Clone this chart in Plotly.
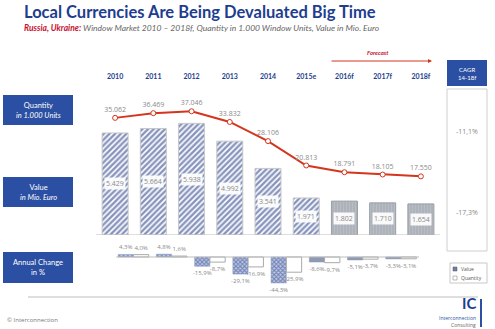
import plotly.graph_objects as go

# ---------------- data ----------------
years = ["2010", "2011", "2012", "2013", "2014", "2015e", "2016f", "2017f", "2018f"]
value_mio_eur = [5429, 5664, 5938, 4992, 3541, 1971, 1802, 1710, 1654]
quantity_k_units = [35062, 36469, 37046, 33832, 28106, 20813, 18791, 18105, 17550]
change_value_pct = [4.3, 4.8, -15.9, -29.1, -44.3, -8.6, -5.1, -3.3]
change_quantity_pct = [4.0, 1.6, -8.7, -16.9, -25.9, -9.7, -3.7, -3.1]
cagr_quantity = "-11,1%"
cagr_value = "-17,3%"
n_actual = 6  # 2010..2015e are actual/estimate, rest forecast

W, H = 495, 329
BLUE = "#2b4fa2"
DARK = "#1d3d8f"
RED = "#d4351c"
GREY = "#8a8a8a"


def px(x):
    return x / W


def py(y):
    return 1 - y / H


def de_int(v):
    return f"{v:,}".replace(",", ".")


def de_pct(v):
    return f"{v:.1f}%".replace(".", ",")


idx = list(range(len(years)))
chg_pos = [i + 0.5 for i in range(len(change_value_pct))]

fig = go.Figure()

# main value bars: actual
fig.add_trace(go.Bar(
    x=idx[:n_actual], y=value_mio_eur[:n_actual], width=0.68, xaxis="x", yaxis="y",
    marker=dict(
        color="white",
        line=dict(color="#c8c8c8", width=1),
        pattern=dict(shape="/", fgcolor="#0f2a7a", bgcolor="white", size=4, solidity=0.6),
    ),
    hoverinfo="skip", showlegend=False,
))
# main value bars: forecast
fig.add_trace(go.Bar(
    x=idx[n_actual:], y=value_mio_eur[n_actual:], width=0.68, xaxis="x", yaxis="y",
    marker=dict(
        color="#b4b8c0",
        line=dict(color="#9a9ea6", width=1),
        pattern=dict(shape="|", fgcolor="#c4c7cd", bgcolor="#adb1b9", size=3, solidity=0.4),
    ),
    hoverinfo="skip", showlegend=False,
))

# quantity line
fig.add_trace(go.Scatter(
    x=idx, y=quantity_k_units, xaxis="x", yaxis="y2",
    mode="lines+markers+text",
    line=dict(color=RED, width=2),
    marker=dict(symbol="circle", size=5, color="white", line=dict(color=RED, width=1)),
    text=[de_int(v) for v in quantity_k_units], textposition="top center",
    textfont=dict(size=7, color=GREY, family="Open Sans"),
    cliponaxis=False, showlegend=False, hoverinfo="skip",
))

# annual change bars
n_chg_actual = n_actual - 1
fig.add_trace(go.Bar(
    x=chg_pos[:n_chg_actual], y=change_value_pct[:n_chg_actual], width=0.4, offset=-0.42,
    xaxis="x3", yaxis="y3",
    marker=dict(color="#c3cbe2", line=dict(color="#8d9cc4", width=0.5),
                pattern=dict(shape="x", fgcolor="#24408f", bgcolor="#c3cbe2", size=3, solidity=0.6)),
    text=[de_pct(v) for v in change_value_pct[:n_chg_actual]], textposition="outside",
    textfont=dict(size=6, color=GREY, family="Open Sans"), constraintext="none",
    cliponaxis=False, showlegend=False, hoverinfo="skip",
))
fig.add_trace(go.Bar(
    x=chg_pos[n_chg_actual:], y=change_value_pct[n_chg_actual:], width=0.4, offset=-0.42,
    xaxis="x3", yaxis="y3",
    marker=dict(color="#8e9ab3", line=dict(color="#8e9ab3", width=0.5)),
    text=[de_pct(v) for v in change_value_pct[n_chg_actual:]], textposition="outside",
    textfont=dict(size=6, color=GREY, family="Open Sans"), constraintext="none",
    cliponaxis=False, showlegend=False, hoverinfo="skip",
))
fig.add_trace(go.Bar(
    x=chg_pos, y=change_quantity_pct, width=0.4, offset=-0.02, xaxis="x3", yaxis="y3",
    marker=dict(color="white", line=dict(color="#aaaaaa", width=1)),
    text=[de_pct(v) for v in change_quantity_pct], textposition="outside",
    textfont=dict(size=6, color=GREY, family="Open Sans"), constraintext="none",
    cliponaxis=False, showlegend=False, hoverinfo="skip",
))

xdom = [px(96), px(440)]
fig.update_layout(
    width=W, height=H, margin=dict(l=0, r=0, t=0, b=0),
    paper_bgcolor="white", plot_bgcolor="rgba(0,0,0,0)",
    font=dict(family="Open Sans", color=GREY),
    barmode="overlay",
    xaxis=dict(domain=xdom, range=[-0.5, 8.5], side="top", anchor="y",
               tickvals=idx, ticktext=years, ticks="", showgrid=False, zeroline=False,
               showline=False, ticklabelstandoff=4,
               tickfont=dict(size=7, color=DARK, family="Lato", weight="bold")),
    yaxis=dict(domain=[py(235), py(85)], range=[0, 7979], visible=False),
    yaxis2=dict(overlaying="y", range=[0, 44900], visible=False),
    xaxis3=dict(domain=xdom, range=[-0.5, 8.5], anchor="y3", visible=False),
    yaxis3=dict(domain=[py(292), py(245)], range=[-59.6, 20.4], visible=False),
)

shapes = []
ann = []


def note(xp, yp, text, size, color, family="Open Sans", xanchor="center", **kw):
    ann.append(dict(x=px(xp), y=py(yp), xref="paper", yref="paper", text=text, showarrow=False,
                    xanchor=xanchor, yanchor="middle",
                    font=dict(size=size, color=color, family=family), **kw))


def rect(x0, y0, x1, y1, fill, line_color=None, lw=0):
    shapes.append(dict(type="rect", xref="paper", yref="paper", x0=px(x0), x1=px(x1),
                       y0=py(y1), y1=py(y0), fillcolor=fill,
                       line=dict(color=line_color or fill, width=lw)))


# baselines
shapes.append(dict(type="line", xref="paper", yref="y", x0=px(96), x1=px(440), y0=0, y1=0,
                   line=dict(color="#bdbdbd", width=1)))
shapes.append(dict(type="line", xref="x3", yref="y3", x0=chg_pos[0] - 0.47, x1=chg_pos[-1] + 0.45,
                   y0=0, y1=0, line=dict(color="#bdbdbd", width=1)))
shapes.append(dict(type="line", xref="paper", yref="paper", x0=px(28), x1=px(478), y0=py(297), y1=py(297),
                   line=dict(color="#bdbdbd", width=1)))

# bar value labels
for i, v in enumerate(value_mio_eur):
    ann.append(dict(x=i, y=v / 2, xref="x", yref="y", text=de_int(v), showarrow=False,
                    xanchor="center", yanchor="middle",
                    font=dict(size=7, color=GREY, family="Open Sans"),
                    bgcolor="rgba(255,255,255,0.92)", borderpad=1))

# title / subtitle
ann.append(dict(x=px(22), y=py(12), xref="paper", yref="paper", xanchor="left", yanchor="middle",
                text="Local Currencies Are Being Devaluated Big Time", showarrow=False,
                font=dict(size=16.5, color=DARK, family="Lato", weight="bold")))
ann.append(dict(x=px(22), y=py(28), xref="paper", yref="paper", xanchor="left", yanchor="middle",
                text="<b><i><span style='color:#c8102e'>Russia, Ukraine:</span></i></b>"
                     "<i> Window Market 2010 – 2018f, Quantity in 1.000 Window Units, Value in Mio. Euro</i>",
                showarrow=False, font=dict(size=8.5, color="#666666", family="Lato")))

# forecast arrow
ann.append(dict(x=px(432), y=py(61), xref="paper", yref="paper", ax=-102, ay=0, text="",
                showarrow=True, arrowhead=2, arrowsize=0.8, arrowwidth=1, arrowcolor=RED))
note(378, 52, "<b><i>Forecast</i></b>", 6, "#c8102e", family="Lato")

# left label boxes
left_boxes = [
    (95, 125, "Quantity<br><i>in 1.000 Units</i>"),
    (177, 207, "Value<br><i>in Mio. Euro</i>"),
    (252, 283, "Annual Change<br>in %"),
]
for y0, y1, t in left_boxes:
    rect(3, y0, 73, y1, BLUE)
    note(38, (y0 + y1) / 2, t, 7.5, "white", family="Lato")

# CAGR column
rect(447, 60, 487, 86, BLUE)
note(467, 73, "CAGR<br>14-18f", 6, "white", family="Lato")
rect(447, 89, 487, 251, "white", "#cfcfcf", 1)
note(467, 131, cagr_quantity, 7, GREY)
note(467, 212, cagr_value, 7, GREY)

# legend box
rect(450, 263, 487, 283, "white", "#c8c8c8", 1)
rect(453, 267, 457, 271, "#6f80ad", "#555", 0.5)
rect(453, 276, 457, 280, "white", "#777", 0.5)
note(459, 269, "Value", 5, "#555", xanchor="left")
note(459, 278, "Quantity", 5, "#555", xanchor="left")

# footer
note(5, 320, "© Interconnection", 6, "#777", xanchor="left")
note(478, 303, "<b>IC</b>", 15, DARK, family="Lato", xanchor="right")
note(478, 317.5, "Interconnection", 5, BLUE, xanchor="right")
note(478, 324.5, "Consulting", 5, "#666", xanchor="right")
shapes.append(dict(type="line", xref="paper", yref="paper", x0=px(481), x1=px(481), y0=py(327), y1=py(299),
                   line=dict(color=BLUE, width=2)))

fig.update_layout(shapes=shapes, annotations=ann)
fig.write_html("out.html")
